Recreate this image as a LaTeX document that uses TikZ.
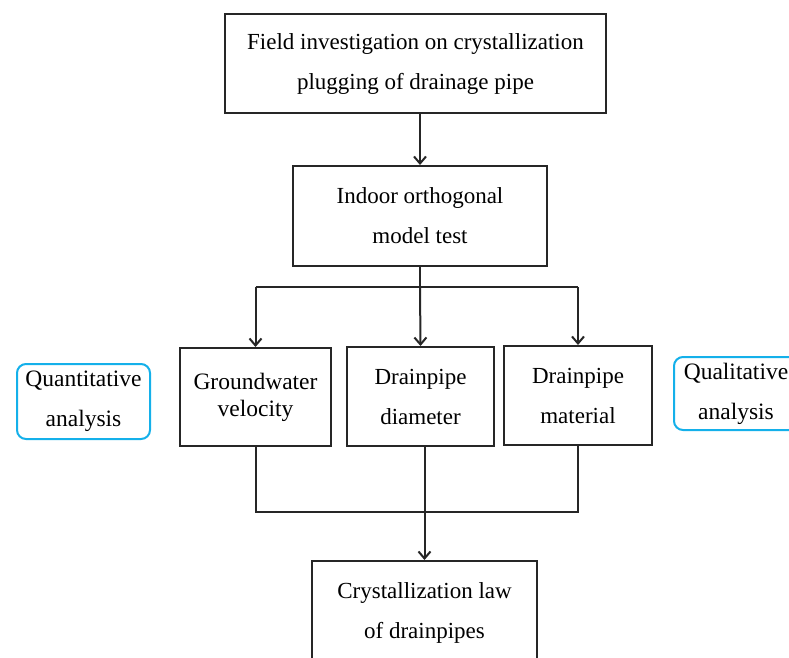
\documentclass[tikz,border=0pt]{standalone}
\usepackage{fontspec}
\setmainfont{Liberation Serif}
\usetikzlibrary{arrows.meta}
\definecolor{boxcyan}{RGB}{20,176,234}
\tikzset{
  x=1pt,y=-1pt,
  box/.style={draw=black!85, line width=2pt, fill=white, align=center, inner sep=0pt,
    font=\fontsize{23}{40}\selectfont},
  sidebox/.style={draw=boxcyan, line width=2pt, rounded corners=9pt, fill=white, align=center, inner sep=0pt,
    font=\fontsize{23.5}{40}\selectfont},
  conn/.style={line width=2pt, draw=black!85},
  arr/.style={conn, -{Straight Barb[length=7pt,width=12pt,line width=2pt]}}
}
\begin{document}
\begin{tikzpicture}
\useasboundingbox (0,0) rectangle (789,657);
\clip (0,0) rectangle (789,657);
\fill[white] (0,0) rectangle (789,657);

\node[box, minimum width=381pt, minimum height=99pt] (top) at (415.5,63.5)
  {Field investigation on crystallization\\plugging of drainage pipe};
\node[box, minimum width=254pt, minimum height=100pt] (second) at (420,216)
  {Indoor orthogonal\\model test};
\node[box, minimum width=151pt, minimum height=98pt, font=\fontsize{23.5}{27}\selectfont] (gw) at (255.5,397)
  {Groundwater\\velocity};
\node[box, minimum width=147pt, minimum height=99pt] (dia) at (420.5,396.5)
  {Drainpipe\\diameter};
\node[box, minimum width=148pt, minimum height=99pt] (mat) at (578,395.5)
  {Drainpipe\\material};
\node[box, minimum width=225pt, minimum height=104pt] (bot) at (424.5,613)
  {Crystallization law\\of drainpipes};

\node[sidebox, minimum width=133pt, minimum height=75pt] (quant) at (83.5,401.5)
  {Quantitative\\analysis};
\node[sidebox, minimum width=124pt, minimum height=73pt] (qual) at (736,393.5)
  {Qualitative\\analysis};

% top to second
\draw[arr] (second.north |- top.south) -- (second.north);
% branch
\coordinate (split) at (420,287);
\draw[conn] (second.south) -- (split);
\draw[conn] (gw.north |- split) -- (mat.north |- split);
\draw[arr] (gw.north |- split) -- (gw.north);
\draw[arr] (split) -- (dia.north);
\draw[arr] (mat.north |- split) -- (mat.north);
% collect
\coordinate (join) at (424.5,512);
\draw[conn] (gw.south) -- (gw.south |- join) -- (mat.south |- join) -- (mat.south);
\draw[conn] (bot.north |- dia.south) -- (join);
\draw[arr] (join) -- (bot.north);
\end{tikzpicture}
\end{document}
